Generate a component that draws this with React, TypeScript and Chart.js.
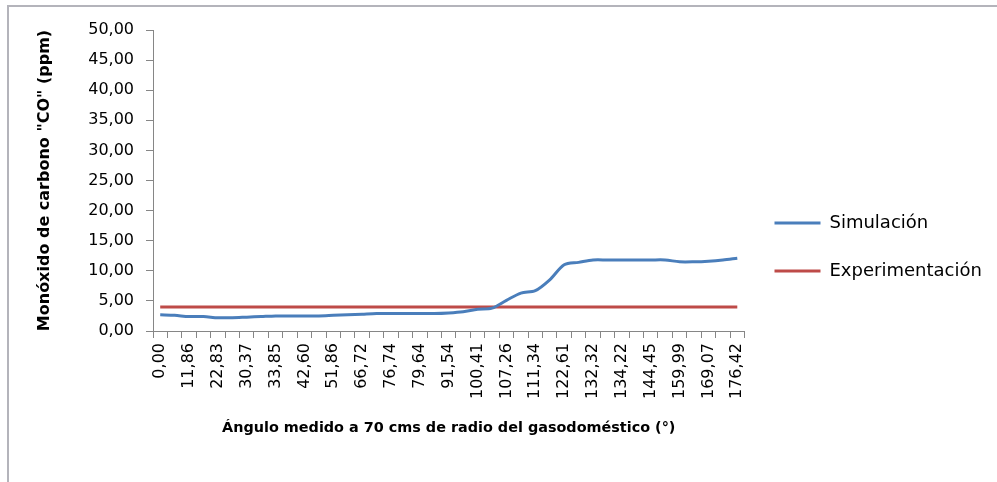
import { useEffect, useRef } from "react";
import { Chart, registerables } from "chart.js";

Chart.register(...registerables);

// Angle categories (every other label is displayed on the axis)
const angleLabels: string[] = [
  "0,00", "5,93", "11,86", "17,35", "22,83", "26,60", "30,37", "32,11", "33,85", "38,23",
  "42,60", "47,23", "51,86", "59,29", "66,72", "71,73", "76,74", "78,19", "79,64", "85,59",
  "91,54", "95,98", "100,41", "103,84", "107,26", "109,30", "111,34", "116,98", "122,61", "127,47",
  "132,32", "133,27", "134,22", "139,34", "144,45", "152,22", "159,99", "164,53", "169,07", "172,75",
  "176,42",
];

const simulacion: number[] = [
  2.7, 2.6, 2.4, 2.4, 2.2, 2.2, 2.3, 2.4, 2.5, 2.5,
  2.5, 2.5, 2.6, 2.7, 2.8, 2.9, 2.9, 2.9, 2.9, 2.9,
  3.0, 3.2, 3.6, 3.8, 5.1, 6.3, 6.7, 8.5, 11.0, 11.4,
  11.8, 11.8, 11.8, 11.8, 11.8, 11.8, 11.5, 11.5, 11.6, 11.8,
  12.1,
];

const experimentacion: number[] = [
  4.0, 4.0, 4.0, 4.0, 4.0, 4.0, 4.0, 4.0, 4.0, 4.0,
  4.0, 4.0, 4.0, 4.0, 4.0, 4.0, 4.0, 4.0, 4.0, 4.0,
  4.0, 4.0, 4.0, 4.0, 4.0, 4.0, 4.0, 4.0, 4.0, 4.0,
  4.0, 4.0, 4.0, 4.0, 4.0, 4.0, 4.0, 4.0, 4.0, 4.0,
  4.0,
];

const seriesNames = ["Simulación", "Experimentación"];
const yMin = 0;
const yMax = 50;
const yStep = 5;

const FONT = "'DejaVu Sans', sans-serif";
const AXIS = "#868686";
const BLUE = "#4a7ebb";
const RED = "#be4b48";

export default function App() {
  const ref = useRef<HTMLCanvasElement>(null);

  useEffect(() => {
    if (!ref.current) return;
    const chart = new Chart(ref.current, {
      type: "line",
      data: {
        labels: angleLabels,
        datasets: [
          {
            label: seriesNames[0],
            data: simulacion,
            borderColor: BLUE,
            backgroundColor: BLUE,
            borderWidth: 3,
            pointRadius: 0,
            tension: 0.3,
          },
          {
            label: seriesNames[1],
            data: experimentacion,
            borderColor: RED,
            backgroundColor: RED,
            borderWidth: 3,
            pointRadius: 0,
            tension: 0,
          },
        ],
      },
      options: {
        responsive: false,
        animation: false,
        layout: { padding: { left: 8, top: 30, right: 7, bottom: 18 } },
        plugins: {
          tooltip: { enabled: false },
          legend: {
            position: "right",
            align: "center",
            labels: {
              boxWidth: 46,
              boxHeight: 3,
              padding: 30,
              color: "#000",
              font: { family: FONT, size: 18 },
              generateLabels: (c: any) =>
                c.data.datasets.map((ds: any, i: number) => ({
                  text: ds.label,
                  fillStyle: ds.borderColor,
                  strokeStyle: ds.borderColor,
                  lineWidth: 0,
                  hidden: false,
                  datasetIndex: i,
                })),
            },
          },
        },
        scales: {
          x: {
            type: "category",
            offset: true,
            afterFit: (s: any) => {
              s.height = 133;
            },
            grid: {
              offset: true,
              drawOnChartArea: false,
              drawTicks: true,
              tickLength: 7,
              color: AXIS,
            },
            border: { display: true, color: AXIS, width: 1 },
            ticks: {
              autoSkip: false,
              minRotation: 90,
              maxRotation: 90,
              padding: 5,
              color: "#000",
              font: { family: FONT, size: 16 },
              callback: function (this: any, value: any, index: number) {
                return index % 2 === 0 ? this.getLabelForValue(value) : "";
              },
            },
            title: {
              display: true,
              text: "Ángulo medido a 70 cms de radio del gasodoméstico (°)",
              color: "#000",
              font: { family: FONT, size: 14.4, weight: "bold" },
              padding: { top: 0, bottom: 27 },
            },
          },
          y: {
            min: yMin,
            max: yMax,
            afterFit: (s: any) => {
              s.width = 145;
            },
            grid: {
              drawOnChartArea: false,
              drawTicks: true,
              tickLength: 7,
              color: AXIS,
            },
            border: { display: true, color: AXIS, width: 1 },
            ticks: {
              stepSize: yStep,
              padding: 12,
              color: "#000",
              font: { family: FONT, size: 16 },
              callback: (v: any) => Number(v).toFixed(2).replace(".", ","),
            },
            title: {
              display: true,
              text: 'Monóxido de carbono "CO" (ppm)',
              color: "#000",
              font: { family: FONT, size: 16, weight: "bold" },
              padding: { top: 27, bottom: 0 },
            },
          },
        },
      },
    });
    return () => chart.destroy();
  }, []);

  return (
    <div style={{ position: "fixed", left: 0, top: 0, width: 997, height: 482, background: "#fff" }}>
      <div
        style={{
          position: "absolute",
          left: 7,
          top: 5,
          width: 990,
          height: 477,
          borderTop: "2px solid #b4b4bb",
          borderLeft: "2px solid #b4b4bb",
          boxSizing: "border-box",
          pointerEvents: "none",
        }}
      />
      <canvas ref={ref} width={997} height={482} style={{ position: "absolute", left: 0, top: 0 }} />
    </div>
  );
}
